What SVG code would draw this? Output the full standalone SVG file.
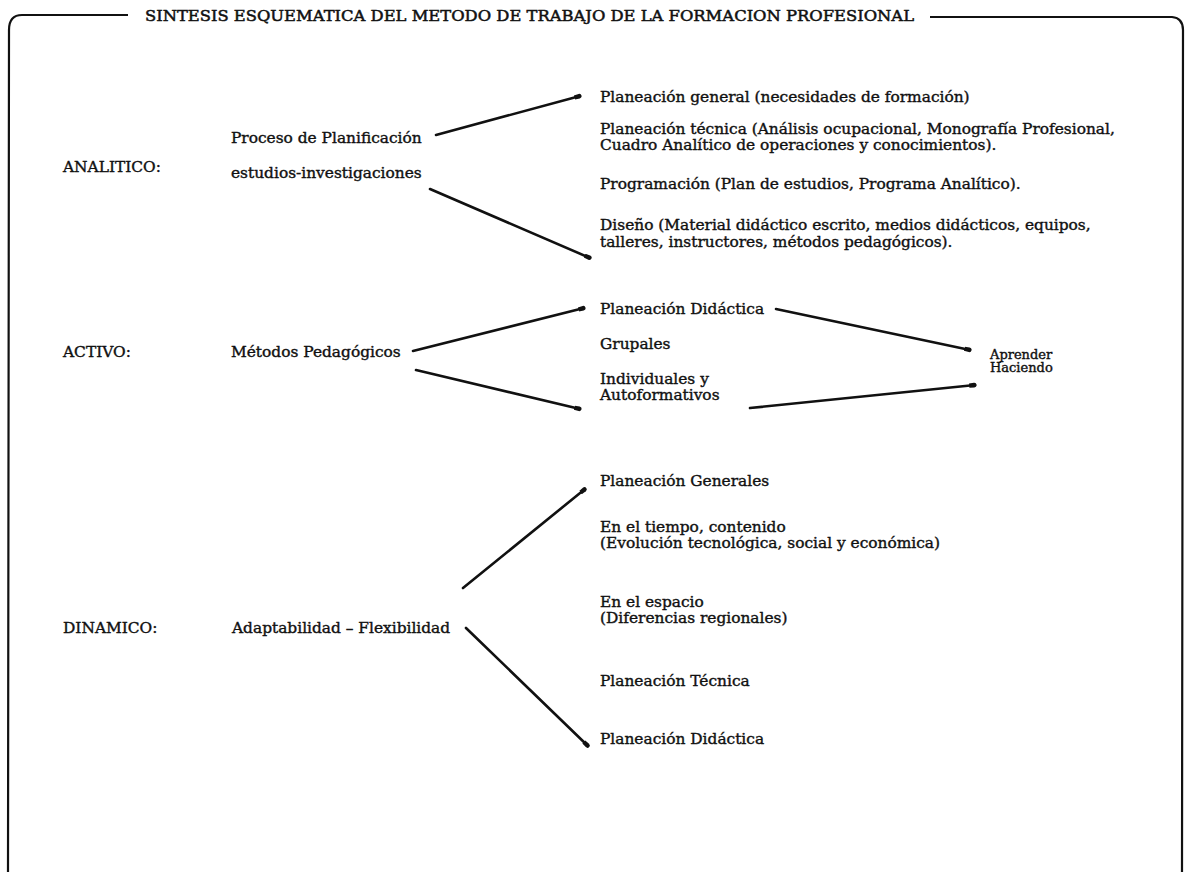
<svg xmlns="http://www.w3.org/2000/svg" width="1187" height="872" viewBox="0 0 1187 872">
  <style>
    text { font-family: "DejaVu Serif", "Liberation Serif", serif; fill: #111; stroke: #111; stroke-width: 0.4; }
    .t { font-size: 15.4px; }
    .h { font-size: 15px; stroke-width: 0.5; }
    .s { font-size: 13px; }
    .frame { fill: none; stroke: #111; stroke-width: 2.2; }
    .link { fill: none; stroke: #111; stroke-width: 2.6; stroke-linecap: round; marker-end: url(#dot); }
  </style>
  <defs>
    <marker id="dot" viewBox="0 0 10 10" refX="7" refY="5" markerWidth="3.2" markerHeight="3.2" orient="auto" markerUnits="strokeWidth">
      <path d="M0,2.5 L6,2.2 A2.8,2.8 0 1 1 6,7.8 L0,7.5 Z" fill="#111"/>
    </marker>
  </defs>

  <rect width="1187" height="872" fill="#fff"/>

  <!-- outer frame broken by the heading -->
  <g id="frame">
    <path class="frame" d="M128,15 L22,15 Q9,15 9,30 L8,872"/>
    <path class="frame" d="M930,17 L1172,17 Q1183,18 1183,30 L1182,872"/>
    <text class="h" x="145" y="21" textLength="769" lengthAdjust="spacingAndGlyphs">SINTESIS ESQUEMATICA DEL METODO DE TRABAJO DE LA FORMACION  PROFESIONAL</text>
  </g>

  <!-- ANALITICO -->
  <g id="analitico">
    <text class="t" x="63" y="172">ANALITICO:</text>
  </g>
  <g id="proceso">
    <text class="t" x="231" y="143">Proceso de Planificación</text>
    <text class="t" x="231" y="178">estudios-investigaciones</text>
  </g>
  <g id="planeacion-general">
    <text class="t" x="600" y="102">Planeación general (necesidades de formación)</text>
  </g>
  <g id="planeacion-tecnica">
    <text class="t" x="600" y="134">Planeación técnica (Análisis ocupacional, Monografía Profesional,</text>
    <text class="t" x="600" y="150">Cuadro Analítico de operaciones y  conocimientos).</text>
  </g>
  <g id="programacion">
    <text class="t" x="600" y="189">Programación (Plan de  estudios, Programa Analítico).</text>
  </g>
  <g id="diseno">
    <text class="t" x="600" y="230">Diseño (Material didáctico escrito, medios didácticos, equipos,</text>
    <text class="t" x="600" y="247">talleres, instructores, métodos pedagógicos).</text>
  </g>

  <!-- ACTIVO -->
  <g id="activo">
    <text class="t" x="63" y="357">ACTIVO:</text>
  </g>
  <g id="metodos">
    <text class="t" x="231" y="357">Métodos Pedagógicos</text>
  </g>
  <g id="planeacion-didactica-1">
    <text class="t" x="600" y="314">Planeación Didáctica</text>
  </g>
  <g id="grupales">
    <text class="t" x="600" y="349">Grupales</text>
  </g>
  <g id="individuales">
    <text class="t" x="600" y="384">Individuales y</text>
    <text class="t" x="600" y="400">Autoformativos</text>
  </g>
  <g id="aprender">
    <text class="s" x="990" y="359">Aprender</text>
    <text class="s" x="990" y="372">Haciendo</text>
  </g>

  <!-- DINAMICO -->
  <g id="dinamico">
    <text class="t" x="63" y="633">DINAMICO:</text>
  </g>
  <g id="adaptabilidad">
    <text class="t" x="232" y="633">Adaptabilidad – Flexibilidad</text>
  </g>
  <g id="planeacion-generales">
    <text class="t" x="600" y="486">Planeación Generales</text>
  </g>
  <g id="tiempo">
    <text class="t" x="600" y="532">En el tiempo, contenido</text>
    <text class="t" x="600" y="548">(Evolución tecnológica, social y económica)</text>
  </g>
  <g id="espacio">
    <text class="t" x="600" y="607">En el espacio</text>
    <text class="t" x="600" y="623">(Diferencias regionales)</text>
  </g>
  <g id="planeacion-tecnica-2">
    <text class="t" x="600" y="686">Planeación Técnica</text>
  </g>
  <g id="planeacion-didactica-2">
    <text class="t" x="600" y="744">Planeación Didáctica</text>
  </g>

  <!-- connectors -->
  <g id="connectors">
    <line class="link" x1="436" y1="135" x2="580" y2="96"/>
    <line class="link" x1="430" y1="189" x2="590" y2="258"/>
    <line class="link" x1="413" y1="351" x2="584" y2="308"/>
    <line class="link" x1="416" y1="370" x2="580" y2="409"/>
    <line class="link" x1="776" y1="309" x2="970" y2="350"/>
    <line class="link" x1="750" y1="408" x2="975" y2="385"/>
    <line class="link" x1="463" y1="588" x2="585" y2="489"/>
    <line class="link" x1="466" y1="628" x2="588" y2="746"/>
  </g>
</svg>
